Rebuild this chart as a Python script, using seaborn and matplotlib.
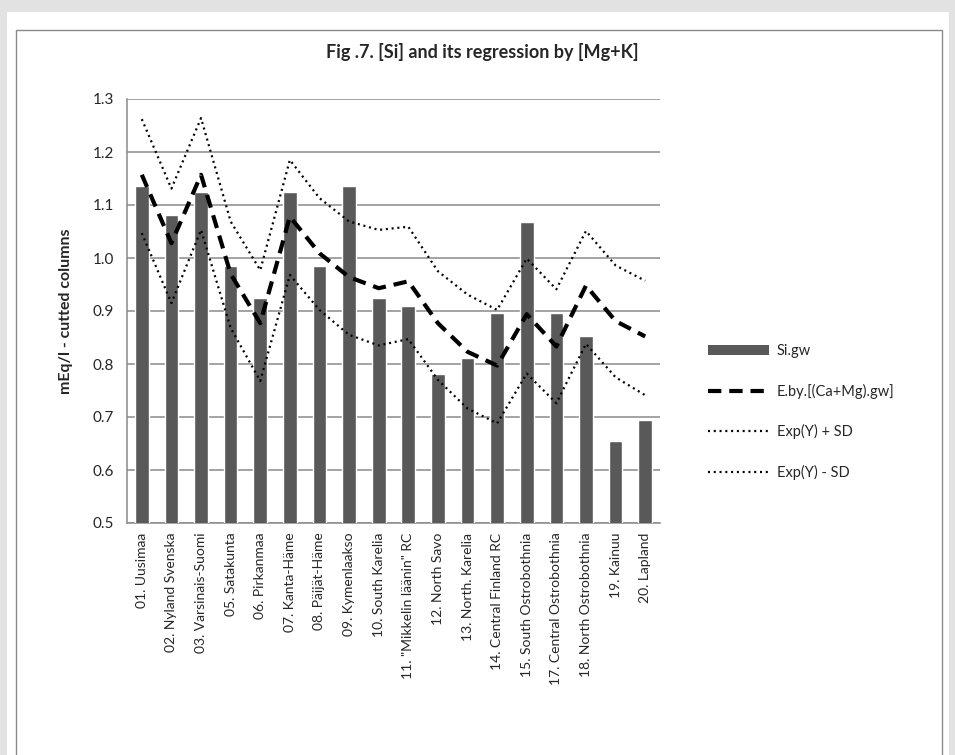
import numpy as np
import pandas as pd
import matplotlib
matplotlib.use("Agg")
import matplotlib.pyplot as plt
import seaborn as sns
from matplotlib.patches import Patch, Rectangle
from matplotlib.lines import Line2D

# ---------------- data ----------------
regions = ["01. Uusimaa", "02. Nyland Svenska", "03. Varsinais-Suomi", "05. Satakunta",
           "06. Pirkanmaa", "07. Kanta-Häme", "08. Päijät-Häme", "09. Kymenlaakso",
           "10. South Karelia", "11. \"Mikkelin läänin\" RC", "12. North Savo",
           "13. North. Karelia", "14. Central Finland RC", "15. South Ostrobothnia",
           "17. Central Ostrobothnia", "18. North Ostrobothnia", "19. Kainuu", "20. Lapland"]
si_gw = [1.136, 1.081, 1.125, 0.984, 0.925, 1.125, 0.984, 1.136, 0.925,
         0.910, 0.782, 0.812, 0.897, 1.067, 0.897, 0.852, 0.655, 0.694]
expected = [1.157, 1.028, 1.157, 0.970, 0.877, 1.078, 1.009, 0.964, 0.943,
            0.956, 0.877, 0.823, 0.797, 0.894, 0.833, 0.948, 0.881, 0.852]
upper_sd = [1.262, 1.131, 1.264, 1.069, 0.977, 1.185, 1.113, 1.069, 1.053,
            1.059, 0.975, 0.931, 0.902, 0.999, 0.941, 1.051, 0.986, 0.957]
lower_sd = [1.047, 0.915, 1.053, 0.868, 0.768, 0.968, 0.902, 0.855, 0.835,
            0.847, 0.770, 0.716, 0.688, 0.782, 0.726, 0.838, 0.775, 0.741]
y_ticks = [0.5, 0.6, 0.7, 0.8, 0.9, 1.0, 1.1, 1.2, 1.3]
series_names = ["Si.gw", "E.by.[(Ca+Mg).gw]", "Exp(Y) + SD", "Exp(Y) - SD"]
title = "Fig .7. [Si] and its regression by [Mg+K]"
y_label = "mEq/l - cutted columns"

df = pd.DataFrame({"region": regions, "si": si_gw, "exp": expected,
                   "up": upper_sd, "lo": lower_sd})
df["pos"] = np.arange(len(df))

# ---------------- style ----------------
sns.set_theme(style="white")
plt.rcParams["font.family"] = ["Lato", "DejaVu Sans"]

W, H = 955, 755
fig = plt.figure(figsize=(W / 100, H / 100), dpi=100)
fig.patch.set_facecolor("#e2e2e2")
fig.add_artist(Rectangle((7 / W, 0), (949 - 7) / W, 1 - 12 / H, transform=fig.transFigure,
                         facecolor="white", edgecolor="none", zorder=-10))
fig.add_artist(Rectangle((16 / W, -0.01), (942 - 16) / W, 1 - 30 / H + 0.01,
                         transform=fig.transFigure, fill=False, edgecolor="#8a8a8a",
                         lw=1.0, zorder=-9))

ax = fig.add_axes([127 / W, 1 - 523 / H, (660 - 127) / W, (523 - 99) / H])
ax.set_facecolor("none")

grid_c = "#8a8a8a"
text_c = "#262626"

sns.barplot(data=df, x="region", y="si", color="#595959", width=0.46,
            saturation=1, ax=ax, zorder=3)
sns.lineplot(data=df, x="pos", y="exp", ax=ax, color="black", lw=3.0,
             dashes=False, zorder=5).lines[-1].set_dashes([3.2, 1.9])
sns.lineplot(data=df, x="pos", y="up", ax=ax, color="black", lw=1.6, zorder=5)
ax.lines[-1].set_dashes([0.9, 1.7])
sns.lineplot(data=df, x="pos", y="lo", ax=ax, color="black", lw=1.6, zorder=5)
ax.lines[-1].set_dashes([0.9, 1.7])

ax.set_ylim(y_ticks[0], y_ticks[-1])
ax.set_xlim(-0.5, len(regions) - 0.5)
ax.set_yticks(y_ticks)
ax.set_yticklabels([f"{v:.1f}" for v in y_ticks], fontsize=11, color=text_c)
for v in y_ticks:
    ax.axhline(v, color=grid_c, lw=1.1, zorder=1)

ax.set_xticks(np.arange(len(regions)))
ax.set_xticklabels(regions, rotation=90, fontsize=10, color=text_c)
ax.set_xticks(np.arange(-0.5, len(regions), 1), minor=True)
ax.tick_params(axis="x", which="major", length=0, pad=7)
ax.tick_params(axis="x", which="minor", length=7, direction="inout", color=grid_c, width=1.1)
ax.tick_params(axis="y", which="major", length=7, direction="inout", color=grid_c,
               width=1.1, pad=6)

for s in ["top", "right"]:
    ax.spines[s].set_visible(False)
for s in ["left", "bottom"]:
    ax.spines[s].set_color(grid_c)
    ax.spines[s].set_linewidth(1.1)

ax.set_xlabel("")
ax.set_ylabel(y_label, fontsize=11.5, fontweight="bold", color=text_c, labelpad=14)

fig.text(0.505, 1 - 52 / H, title, ha="center", va="center", fontsize=13,
         fontweight="bold", color=text_c)

handles = [Patch(facecolor="#595959", edgecolor="none"),
           Line2D([], [], color="black", lw=3.0, dashes=[3.2, 1.9]),
           Line2D([], [], color="black", lw=1.6, dashes=[0.9, 1.7]),
           Line2D([], [], color="black", lw=1.6, dashes=[0.9, 1.7])]
fig.legend(handles, series_names, loc="center left",
           bbox_to_anchor=(695 / W, 1 - 412 / H), frameon=False, fontsize=10.5,
           handlelength=4.2, handleheight=0.7, labelspacing=1.75, handletextpad=0.5,
           labelcolor=text_c)

fig.savefig("out.png", dpi=100, facecolor=fig.get_facecolor())
